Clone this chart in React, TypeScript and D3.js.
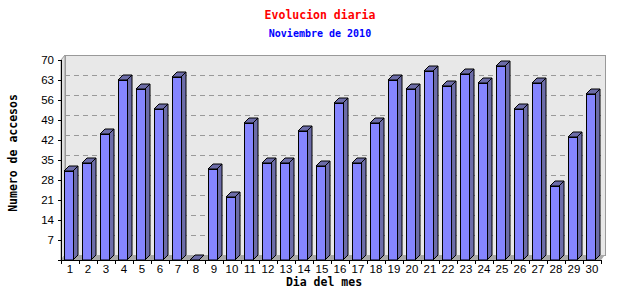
import React from "react";
import * as d3 from "d3";

const days = Array.from({ length: 30 }, (_, i) => String(i + 1));
const visits = [31, 34, 44, 63, 60, 53, 64, 0, 32, 22, 48, 34, 34, 45, 33, 55, 34, 48, 63, 60, 66, 61, 65, 62, 68, 53, 62, 26, 43, 58];
const yTicks = [7, 14, 21, 28, 35, 42, 49, 56, 63, 70];
const title = "Evolucion diaria";
const subtitle = "Noviembre de 2010";
const xTitle = "Dia del mes";
const yTitle = "Numero de accesos";

export default function App() {
  const W = 640, H = 300;
  const left = 61, right = 601, top = 60, bottom = 260;
  const wdx = 4, dy = 5, bdx = 5;
  const x = d3.scaleBand<string>().domain(days).range([left, right]).padding(0);
  const y = d3.scaleLinear().domain([0, 70]).range([bottom, top]);
  const bw = 9;
  const mono = "'DejaVu Sans Mono', monospace";
  const sans = "'Liberation Sans', Arial, sans-serif";
  const front = "#8585ff";
  const side = "#6c6ca8";

  return (
    <svg width={W} height={H} style={{ position: "absolute", left: 0, top: 0, background: "#fff" }}>
      <rect x={0} y={0} width={W} height={H} fill="#fff" />
      <text x={320} y={19} textAnchor="middle" fontFamily={mono} fontWeight="bold" fontSize={11.5} fill="#ff0000">{title}</text>
      <text x={320} y={37} textAnchor="middle" fontFamily={mono} fontWeight="bold" fontSize={10} fill="#0000ff">{subtitle}</text>

      {/* left side panel */}
      <polygon points={`${left},${top} ${left + wdx},${top - dy} ${left + wdx},${bottom - dy} ${left},${bottom}`} fill="#e0e0e0" stroke="#999" strokeWidth={1} />
      {/* back wall */}
      <rect x={left + wdx + 0.5} y={top - dy + 0.5} width={right - left} height={bottom - top} fill="#e8e8e8" stroke="#999" strokeWidth={1} />
      {/* grid */}
      {yTicks.filter((t) => t < 70).map((t) => (
        <line key={t} x1={left + wdx} x2={right + wdx} y1={Math.round(y(t) - dy) + 0.5} y2={Math.round(y(t) - dy) + 0.5} stroke="#999" strokeDasharray="5,4" />
      ))}
      {/* floor */}
      <polygon points={`${left},${bottom} ${right},${bottom} ${right + wdx},${bottom - dy} ${left + wdx},${bottom - dy}`} fill="#a8a8a8" />

      {/* bars */}
      {visits.map((v, i) => {
        const bx = (x(days[i]) as number) + 3;
        const yt = Math.round(y(v));
        return (
          <g key={i} stroke="#000" strokeWidth={1} strokeLinejoin="miter">
            <polygon points={`${bx + bw},${yt} ${bx + bw + bdx},${yt - dy} ${bx + bw + bdx},${bottom - dy} ${bx + bw},${bottom}`} fill={side} />
            <polygon points={`${bx},${yt} ${bx + bdx},${yt - dy} ${bx + bw + bdx},${yt - dy} ${bx + bw},${yt}`} fill={side} />
            {v > 0 && <rect x={bx + 0.5} y={yt + 0.5} width={bw} height={bottom - yt - 0.5} fill={front} />}
          </g>
        );
      })}

      {/* axes */}
      <line x1={left + 0.5} x2={left + 0.5} y1={top} y2={bottom} stroke="#000" />
      <line x1={left} x2={right + 1} y1={bottom + 0.5} y2={bottom + 0.5} stroke="#000" />
      {[0, ...yTicks].map((t) => (
        <line key={t} x1={left - 3} x2={left} y1={Math.round(y(t)) + 0.5} y2={Math.round(y(t)) + 0.5} stroke="#000" />
      ))}
      {yTicks.map((t) => (
        <text key={t} x={54} y={Math.round(y(t)) + 4} textAnchor="end" fontFamily={sans} fontSize={11.5} fill="#000">{t}</text>
      ))}
      {days.map((d, i) => (
        <line key={d} x1={left + i * 18 + 18.5} x2={left + i * 18 + 18.5} y1={bottom} y2={bottom + 4} stroke="#000" />
      ))}
      <line x1={left + 0.5} x2={left + 0.5} y1={bottom} y2={bottom + 4} stroke="#000" />
      {days.map((d) => (
        <text key={d} x={(x(d) as number) + x.bandwidth() / 2} y={273} textAnchor="middle" fontFamily={sans} fontSize={11.5} fill="#000">{d}</text>
      ))}
      <text x={324} y={286} textAnchor="middle" fontFamily={mono} fontWeight="bold" fontSize={11.5} fill="#000">{xTitle}</text>
      <text transform="translate(17,153) rotate(-90)" textAnchor="middle" fontFamily={mono} fontWeight="bold" fontSize={11.5} fill="#000">{yTitle}</text>
    </svg>
  );
}
